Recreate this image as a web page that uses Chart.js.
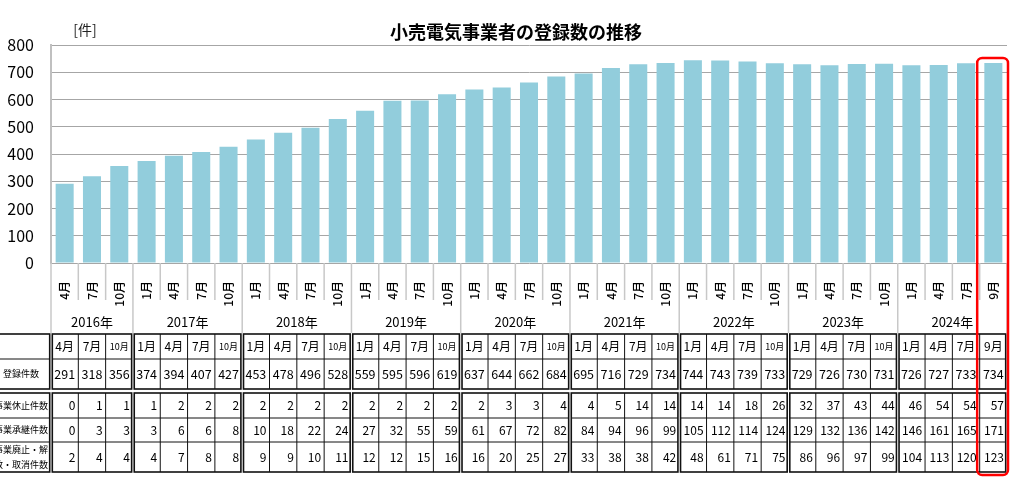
<!DOCTYPE html>
<html><head><meta charset="utf-8">
<script src="https://cdn.jsdelivr.net/npm/chart.js@4/dist/chart.umd.min.js"></script>
<style>html,body{margin:0;padding:0;background:#fff;overflow:hidden}#wrap{width:1024px;height:477px;position:relative}</style>
</head><body><div id="wrap"><canvas id="c" width="1024" height="477"></canvas></div>
<script>
const chartTitle = "小売電気事業者の登録数の推移";
const unitLabel = "[件]";
const months = ["4月","7月","10月","1月","4月","7月","10月","1月","4月","7月","10月","1月","4月","7月","10月","1月","4月","7月","10月","1月","4月","7月","10月","1月","4月","7月","10月","1月","4月","7月","10月","1月","4月","7月","9月"];
const years = ["2016年","2017年","2018年","2019年","2020年","2021年","2022年","2023年","2024年"];
const yearSizes = [3,4,4,4,4,4,4,4,4];
const registered = [291,318,356,374,394,407,427,453,478,496,528,559,595,596,619,637,644,662,684,695,716,729,734,744,743,739,733,729,726,730,731,726,727,733,734];
const suspended = [0,1,1,1,2,2,2,2,2,2,2,2,2,2,2,2,3,3,4,4,5,14,14,14,14,18,26,32,37,43,44,46,54,54,57];
const succeeded = [0,3,3,3,6,6,8,10,18,22,24,27,32,55,59,61,67,72,82,84,94,96,99,105,112,114,124,129,132,136,142,146,161,165,171];
const abolished = [2,4,4,4,7,8,8,9,9,10,11,12,12,15,16,16,20,25,27,33,38,38,42,48,61,71,75,86,96,97,99,104,113,120,123];
const rowLabels = [["登録件数"],["事業休止件数"],["事業承継件数"],["事業廃止・解","散・取消件数"]];
const yTicks = [0,100,200,300,400,500,600,700,800];

const FONT = '"Noto Sans CJK JP","Noto Sans",sans-serif';

const decor = {
  id: 'decor',
  afterDraw(chart) {
    const ctx = chart.ctx, xs = chart.scales.x, area = chart.chartArea;
    const n = months.length;
    const w = xs.getPixelForValue(1) - xs.getPixelForValue(0);
    const bnd = i => xs.getPixelForValue(0) - w / 2 + i * w;
    const base = area.bottom;
    const starts = []; let acc = 0;
    yearSizes.forEach(s => { starts.push(acc); acc += s; });
    ctx.save();
    ctx.fillStyle = '#000';
    ctx.textAlign = 'center'; ctx.textBaseline = 'middle';
    ctx.font = 'bold 18px ' + FONT;
    ctx.fillText(chartTitle, 516, 32);
    ctx.font = '14px ' + FONT;
    ctx.fillStyle = '#222';
    ctx.fillText(unitLabel, 85, 30);
    ctx.strokeStyle = '#c8c8c8'; ctx.lineWidth = 1.5;
    for (let i = 0; i <= n; i++) {
      const g = starts.includes(i) || i === n;
      const x = bnd(i);
      ctx.beginPath(); ctx.moveTo(x, base); ctx.lineTo(x, base + (g ? 70 : 37)); ctx.stroke();
    }
    ctx.fillStyle = '#000';
    ctx.font = '13px ' + FONT;
    starts.forEach((s, k) => {
      const cx = (bnd(s) + bnd(s + yearSizes[k])) / 2;
      ctx.fillText(years[k], cx, base + 59);
    });
    const hTop = base + 71, hBot = base + 96, r1Bot = base + 126, bTop = base + 130;
    const rB = [base + 155, base + 179, base + 209];
    const blocks = [{x0: -5, x1: bnd(0) - 1.3, s: -1, e: -1}];
    starts.forEach((s, k) => blocks.push({x0: bnd(s) + 1.3, x1: bnd(s + yearSizes[k]) - 1.3, s: s, e: s + yearSizes[k]}));
    ctx.strokeStyle = '#111';
    blocks.forEach(b => {
      ctx.lineWidth = 1.6;
      ctx.strokeRect(b.x0, hTop, b.x1 - b.x0, r1Bot - hTop);
      ctx.strokeRect(b.x0, bTop, b.x1 - b.x0, rB[2] - bTop);
      ctx.lineWidth = 1;
      [hBot, rB[0], rB[1]].forEach(y => { ctx.beginPath(); ctx.moveTo(b.x0, y); ctx.lineTo(b.x1, y); ctx.stroke(); });
      for (let i = b.s + 1; i < b.e; i++) {
        const x = bnd(i);
        ctx.beginPath(); ctx.moveTo(x, hTop); ctx.lineTo(x, r1Bot); ctx.stroke();
        ctx.beginPath(); ctx.moveTo(x, bTop); ctx.lineTo(x, rB[2]); ctx.stroke();
      }
    });
    ctx.fillStyle = '#000';
    ctx.textAlign = 'center';
    ctx.font = '9px ' + FONT;
    const lx = 21;
    ctx.fillText(rowLabels[0][0], lx, (hBot + r1Bot) / 2);
    ctx.fillText(rowLabels[1][0], lx, (bTop + rB[0]) / 2);
    ctx.fillText(rowLabels[2][0], lx, (rB[0] + rB[1]) / 2);
    ctx.fillText(rowLabels[3][0], lx, (rB[1] + rB[2]) / 2 - 7);
    ctx.fillText(rowLabels[3][1], lx, (rB[1] + rB[2]) / 2 + 8);
    for (let i = 0; i < n; i++) {
      const cx = xs.getPixelForValue(i), xr = bnd(i + 1) - 3;
      ctx.textAlign = 'center';
      ctx.font = (months[i].length > 2 ? '9px ' : '12px ') + FONT;
      ctx.fillText(months[i], cx, (hTop + hBot) / 2);
      ctx.font = '12.5px ' + FONT;
      ctx.fillText(String(registered[i]), cx, (hBot + r1Bot) / 2);
      ctx.textAlign = 'right';
      ctx.font = '12px ' + FONT;
      ctx.fillText(String(suspended[i]), xr, (bTop + rB[0]) / 2);
      ctx.fillText(String(succeeded[i]), xr, (rB[0] + rB[1]) / 2);
      ctx.fillText(String(abolished[i]), xr, (rB[1] + rB[2]) / 2);
    }
    ctx.strokeStyle = '#ff0000'; ctx.lineWidth = 2.5;
    const rx0 = bnd(n - 1) - 2.5, rx1 = bnd(n) + 1;
    ctx.beginPath();
    ctx.roundRect(rx0, area.top + 13, rx1 - rx0, 475 - (area.top + 13), 5);
    ctx.stroke();
    ctx.restore();
  }
};

new Chart(document.getElementById('c'), {
  type: 'bar',
  data: {
    labels: months,
    datasets: [{
      data: registered,
      backgroundColor: '#92CDDC',
      barPercentage: 0.66,
      categoryPercentage: 1.0
    }]
  },
  options: {
    responsive: false,
    animation: false,
    devicePixelRatio: 1,
    layout: { padding: { top: 45, right: 17, left: 0, bottom: 0 } },
    plugins: { legend: { display: false }, tooltip: { enabled: false }, title: { display: false } },
    scales: {
      x: {
        grid: { display: false },
        border: { display: false },
        ticks: { autoSkip: false, maxRotation: 90, minRotation: 90, padding: 10, color: '#000', font: { size: 12, family: FONT, weight: '500' } },
        afterFit: s => { s.height = 214; }
      },
      y: {
        min: 0, max: 800,
        afterBuildTicks: s => { s.ticks = yTicks.map(v => ({ value: v })); },
        grid: { color: '#a6a6a6', lineWidth: 1, drawTicks: false },
        border: { display: true, color: '#c0c0c0', width: 2 },
        ticks: { padding: 17, color: '#000', font: { size: 16, family: FONT } },
        afterFit: s => { s.width = 51; }
      }
    }
  },
  plugins: [decor]
});
</script>
</body></html>
